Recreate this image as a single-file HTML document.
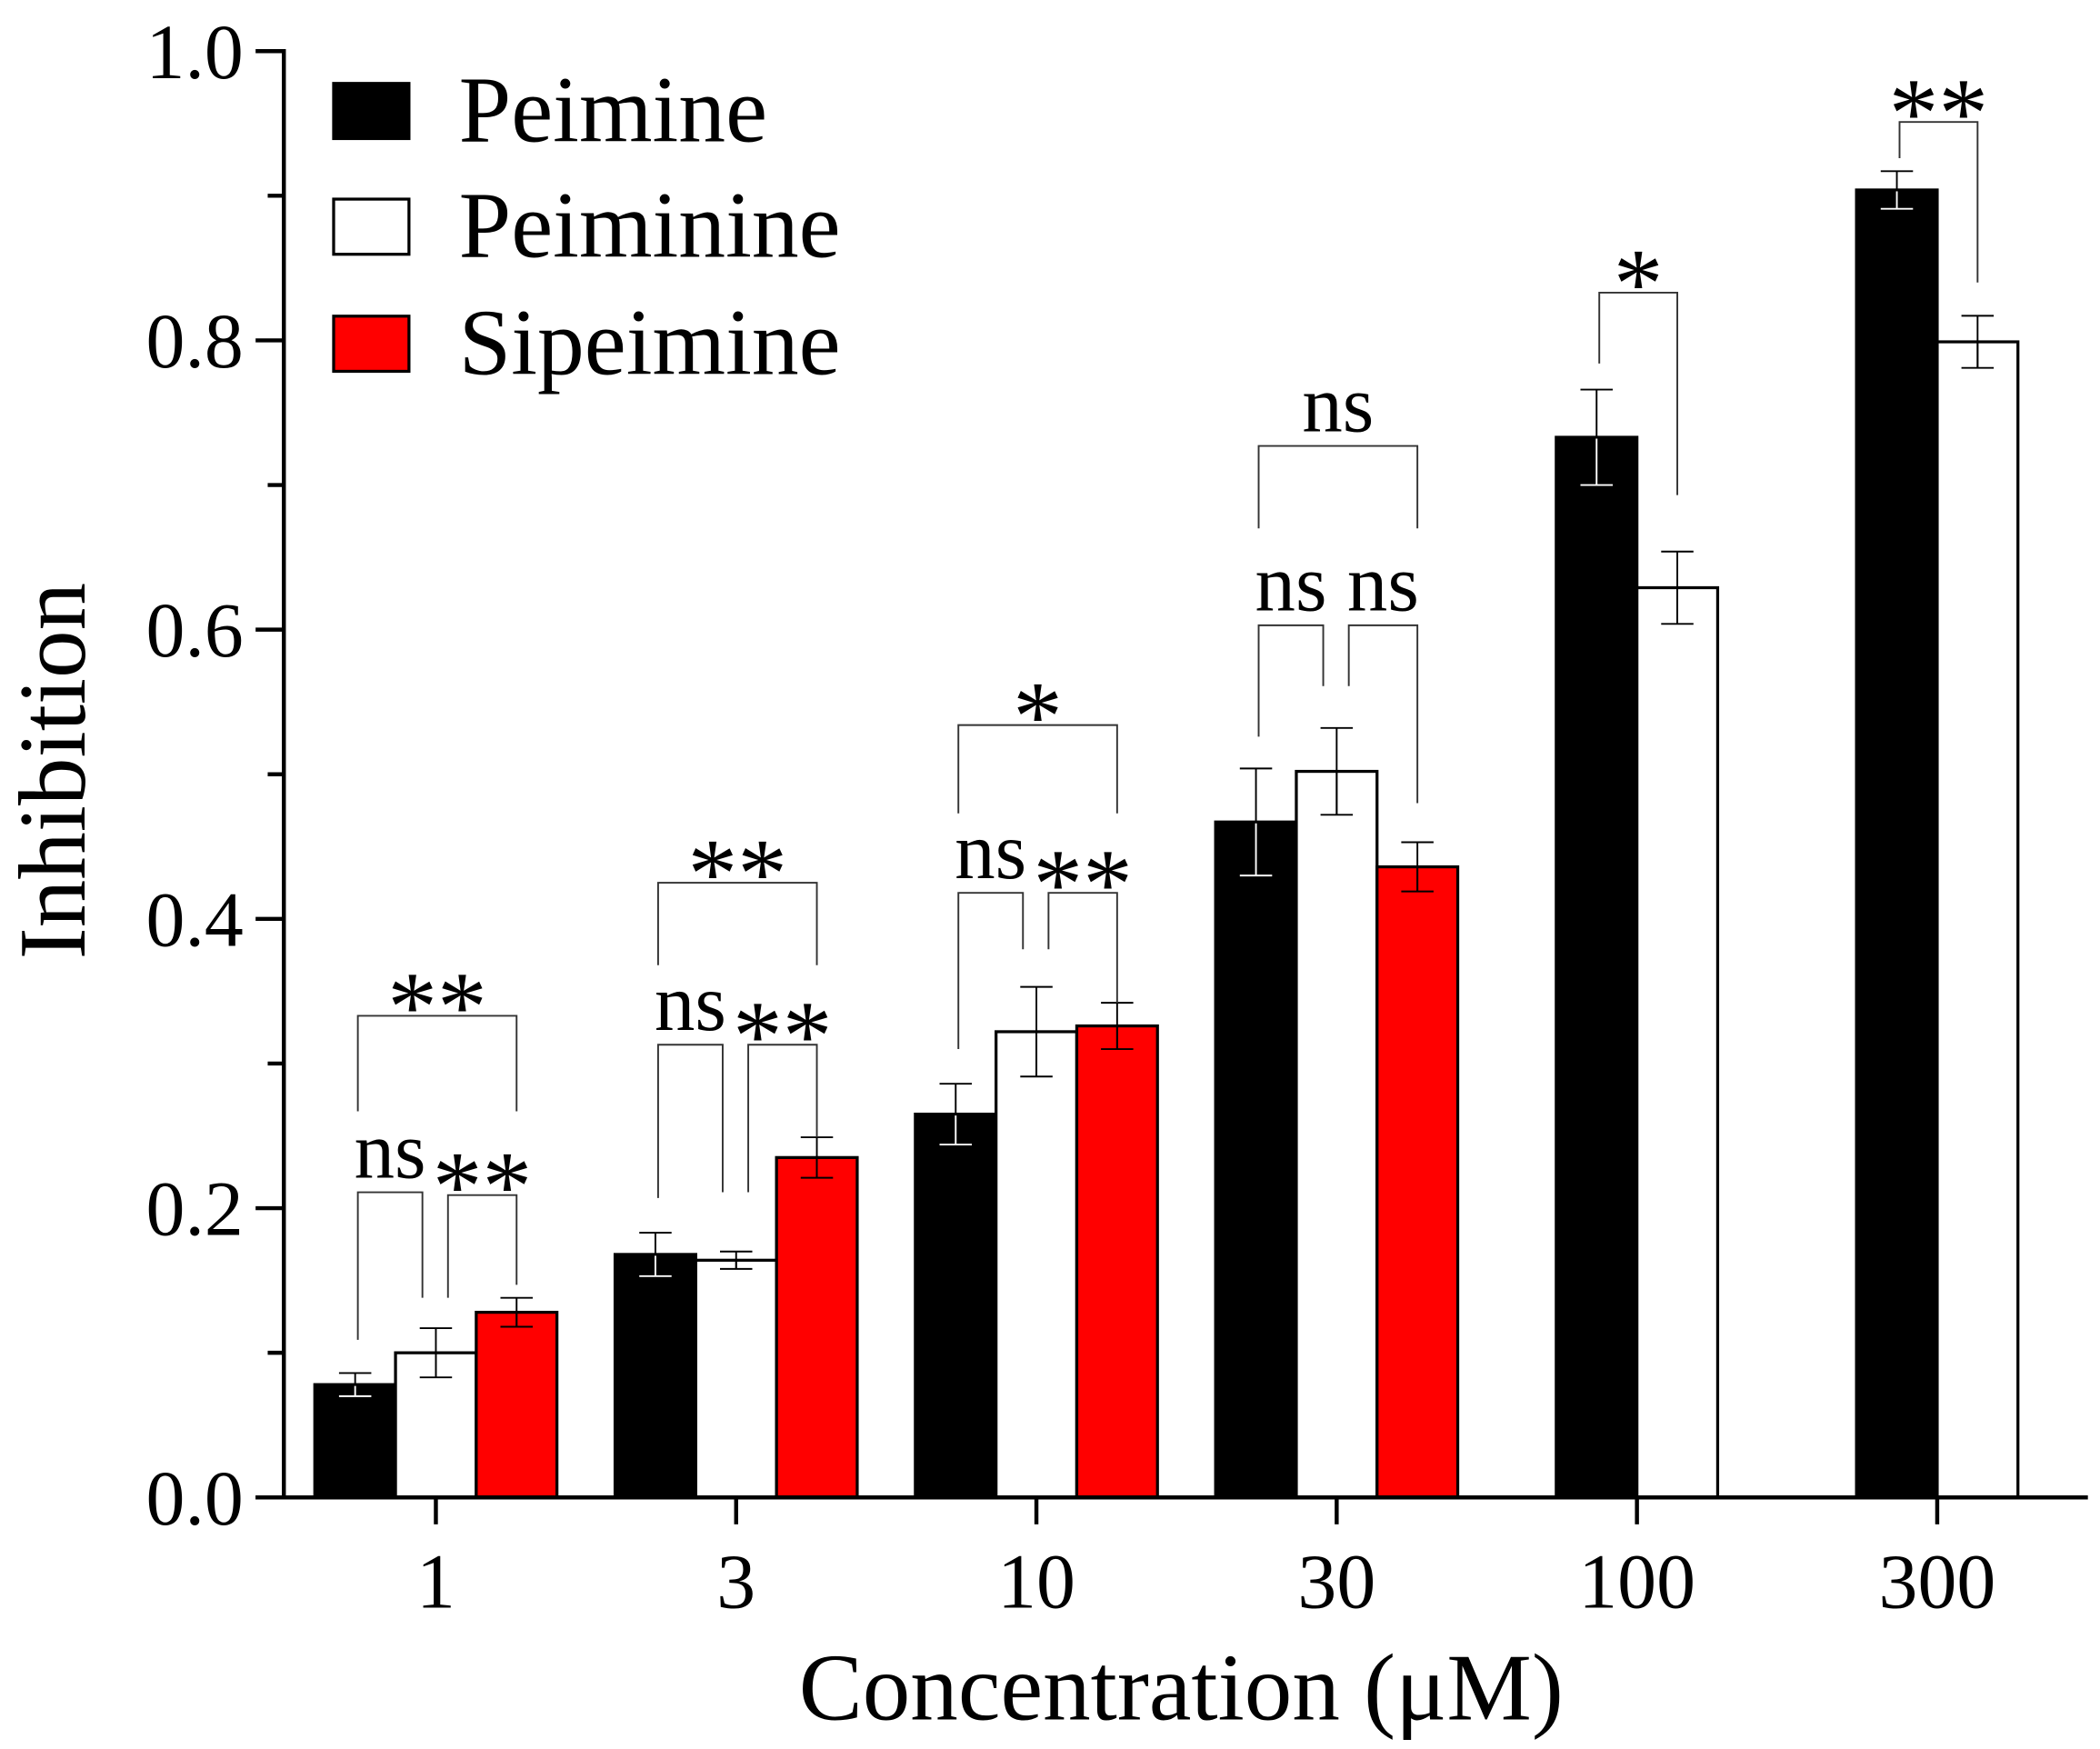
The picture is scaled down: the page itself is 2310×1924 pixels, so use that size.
<!DOCTYPE html>
<html><head><meta charset="utf-8">
<style>html,body{margin:0;padding:0;background:#fff;}svg{display:block;}text{font-family:"Liberation Serif","Times New Roman",serif;fill:#000;}</style>
</head><body>
<svg id="chart" xmlns="http://www.w3.org/2000/svg" width="2310" height="1924" viewBox="0 0 1561 1300" preserveAspectRatio="none">
<rect x="0" y="0" width="1561" height="1300" fill="#fff"/>
<g id="marks"></g>
</svg>
<script>
const categories = ["1", "3", "10", "30", "100", "300"];
const seriesNames = ["Peimine", "Peiminine", "Sipeimine"];
const peimine = [0.078, 0.168, 0.265, 0.467, 0.733, 0.904];
const peimineErr = [0.008, 0.015, 0.021, 0.037, 0.033, 0.013];
const peiminine = [0.100, 0.164, 0.322, 0.502, 0.629, 0.799];
const peiminineErr = [0.017, 0.006, 0.031, 0.030, 0.025, 0.018];
const sipeimine = [0.128, 0.235, 0.326, 0.436, null, null];
const sipeimineErr = [0.010, 0.014, 0.016, 0.017, null, null];
const yTicks = ["0.0", "0.2", "0.4", "0.6", "0.8", "1.0"];
// brackets: [groupIndex, fromSeries, toSeries, label, topValue, leftBottomValue, rightBottomValue]
const brackets = [
  [0, 0, 1, "ns", 0.211, 0.109, 0.138],
  [0, 1, 2, "**", 0.209, 0.138, 0.147],
  [0, 0, 2, "**", 0.333, 0.267, 0.267],
  [1, 0, 1, "ns", 0.313, 0.207, 0.211],
  [1, 1, 2, "**", 0.313, 0.211, 0.249],
  [1, 0, 2, "**", 0.425, 0.368, 0.368],
  [2, 0, 1, "ns", 0.418, 0.310, 0.379],
  [2, 1, 2, "**", 0.418, 0.379, 0.342],
  [2, 0, 2, "*", 0.534, 0.473, 0.473],
  [3, 0, 1, "ns", 0.603, 0.526, 0.561],
  [3, 1, 2, "ns", 0.603, 0.561, 0.480],
  [3, 0, 2, "ns", 0.727, 0.670, 0.670],
  [4, 0, 1, "*", 0.833, 0.784, 0.693],
  [5, 0, 1, "**", 0.951, 0.926, 0.840]
];

const NS = "http://www.w3.org/2000/svg";
const g = document.getElementById("marks");
const X0 = 211, Y0 = 1113, YTOP = 38, XEND = 1552;
const groupStart = 324, groupStep = 223.2, barW = 60;
function yScale(v){ return Y0 - v * (Y0 - YTOP); }
function groupX(i){ return groupStart + i * groupStep; }
const allVals = [peimine, peiminine, sipeimine];
const allErr = [peimineErr, peiminineErr, sipeimineErr];
const fills = ["#000", "#fff", "#ff0000"];
function nBars(i){ return allVals.filter(a => a[i] !== null).length; }
function barCenter(i, s){ const n = nBars(i); return groupX(i) + (s - (n - 1) / 2) * barW; }
function mk(tag, attrs, parent){ const e = document.createElementNS(NS, tag); for (const k in attrs) e.setAttribute(k, attrs[k]); (parent || g).appendChild(e); return e; }

// bars
for (let s = 0; s < 3; s++) {
  for (let i = 0; i < categories.length; i++) {
    const v = allVals[s][i]; if (v === null) continue;
    const cx = barCenter(i, s);
    const r = mk("rect", {x: cx - barW/2, y: yScale(v), width: barW, height: Y0 - yScale(v), fill: fills[s], stroke: "#000", "stroke-width": 2.2});
    
    
    const e = allErr[s][i];
    const eg = mk("g", {stroke: "#000", "stroke-width": 1.3, fill: "none"});
    
    
    const ec = s === 1 ? "#000" : (s === 0 ? "#fff" : "#000");
    mk("line", {x1: cx, x2: cx, y1: yScale(v - e), y2: yScale(v + e)}, eg);
    mk("line", {x1: cx - 12, x2: cx + 12, y1: yScale(v + e), y2: yScale(v + e)}, eg);
    mk("line", {x1: cx - 12, x2: cx + 12, y1: yScale(v - e), y2: yScale(v - e), stroke: ec}, eg);
    mk("line", {x1: cx, x2: cx, y1: yScale(v) + 1, y2: yScale(v - e), stroke: ec}, eg);
  }
}

// brackets
brackets.forEach((b, k) => {
  const [i, a, c, label, top, lb, rb] = b;
  let xl = barCenter(i, a) + 2, xr = barCenter(i, c);
  const adjacent = (c - a === 1) && nBars(i) === 3;
  if (adjacent && a === 0) xr -= 10;
  if (adjacent && a === 1) xl += 7;
  const bg = mk("g", {});
  
  
  mk("polyline", {points: `${xl},${yScale(lb)} ${xl},${yScale(top)} ${xr},${yScale(top)} ${xr},${yScale(rb)}`, fill: "none", stroke: "#333", "stroke-width": 1.3}, bg);
  const isStar = label.indexOf("*") >= 0;
  const t = mk("text", {x: (xl + xr) / 2, y: isStar ? yScale(top) + 18 : yScale(top) - 11, "text-anchor": "middle", "font-size": isStar ? 74 : 60}, bg);
  t.textContent = label;
  
  
});

// axes
const ax = mk("g", {stroke: "#000", "stroke-width": 3, fill: "none"});


mk("line", {x1: X0, x2: X0, y1: YTOP - 1.5, y2: Y0 + 1.5}, ax);
mk("line", {x1: 190, x2: XEND, y1: Y0, y2: Y0}, ax);
for (let k = 0; k <= 10; k++) {
  const y = yScale(k / 10);
  mk("line", {x1: k % 2 === 0 ? 190 : 199, x2: X0, y1: y, y2: y}, ax);
}
yTicks.forEach((lab, k) => {
  const t = mk("text", {x: 181, y: yScale(k * 0.2) + 20, "text-anchor": "end", "font-size": 58});
  t.textContent = lab;
  
  
});
categories.forEach((lab, i) => {
  mk("line", {x1: groupX(i), x2: groupX(i), y1: Y0, y2: 1133}, ax);
  const t = mk("text", {x: groupX(i), y: 1195, "text-anchor": "middle", "font-size": 58});
  t.textContent = lab;
  
  
});
const xt = mk("text", {x: 878, y: 1278, "text-anchor": "middle", "font-size": 71});
xt.textContent = "Concentration (μM)";


const yt = mk("text", {x: 0, y: 0, "text-anchor": "middle", "font-size": 71, transform: "translate(63,573) rotate(-90)"});
yt.textContent = "Inhibition";



// legend
const legY = [62, 148, 235];
seriesNames.forEach((n, s) => {
  const lg = mk("g", {});
  
  
  mk("rect", {x: 248, y: legY[s], width: 56, height: 41, fill: fills[s], stroke: "#000", "stroke-width": 2.2}, lg);
  const t = mk("text", {x: 341, y: legY[s] + 43, "font-size": 70}, lg);
  t.textContent = n;
});
</script>
</body></html>
